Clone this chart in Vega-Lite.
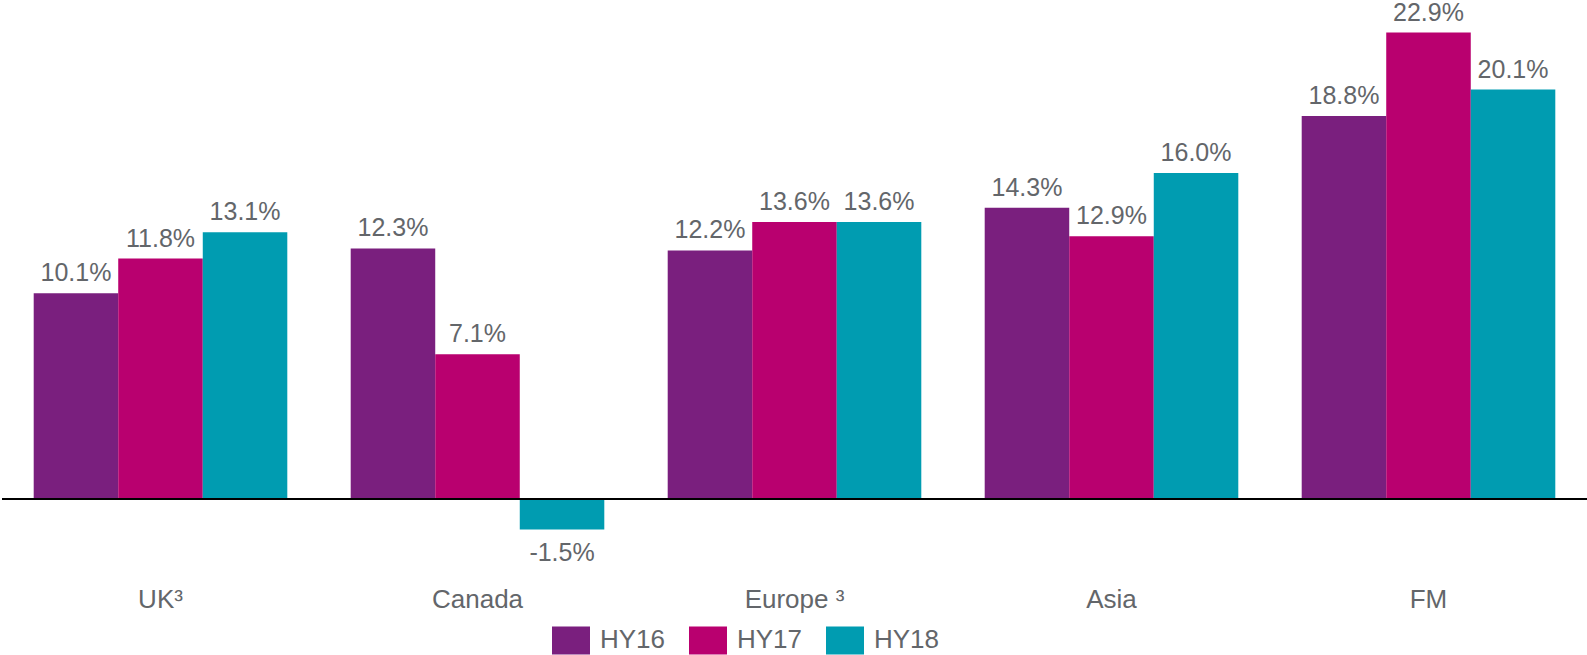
{
  "$schema": "https://vega.github.io/schema/vega-lite/v6.json",
  "width": 1585,
  "height": 560,
  "autosize": {"type": "none"},
  "padding": {"left": 2, "top": 0, "right": 0, "bottom": 95},
  "background": "white",
  "config": {
    "view": {"stroke": null},
    "font": "Liberation Sans",
    "text": {"font": "Liberation Sans"},
    "locale": {
      "number": {"decimal": ".", "thousands": ",", "grouping": [3], "currency": ["$", ""], "minus": "-"}
    }
  },
  "data": {
    "values": [
      {"region": "UK³", "period": "HY16", "value": 0.101},
      {"region": "UK³", "period": "HY17", "value": 0.118},
      {"region": "UK³", "period": "HY18", "value": 0.131},
      {"region": "Canada", "period": "HY16", "value": 0.123},
      {"region": "Canada", "period": "HY17", "value": 0.071},
      {"region": "Canada", "period": "HY18", "value": -0.015},
      {"region": "Europe ³", "period": "HY16", "value": 0.122},
      {"region": "Europe ³", "period": "HY17", "value": 0.136},
      {"region": "Europe ³", "period": "HY18", "value": 0.136},
      {"region": "Asia", "period": "HY16", "value": 0.143},
      {"region": "Asia", "period": "HY17", "value": 0.129},
      {"region": "Asia", "period": "HY18", "value": 0.160},
      {"region": "FM", "period": "HY16", "value": 0.188},
      {"region": "FM", "period": "HY17", "value": 0.229},
      {"region": "FM", "period": "HY18", "value": 0.201}
    ]
  },
  "encoding": {
    "x": {
      "field": "region",
      "type": "nominal",
      "sort": null,
      "scale": {"paddingInner": 0.2, "paddingOuter": 0.1},
      "axis": {
        "title": null,
        "domain": false,
        "ticks": false,
        "tickSize": 0,
        "labelAngle": 0,
        "labelFont": "Liberation Sans",
        "labelFontSize": 26,
        "labelColor": "#63666A",
        "labelBaseline": "alphabetic",
        "labelPadding": 47
      }
    },
    "xOffset": {"field": "period", "type": "nominal", "sort": null, "scale": {"paddingInner": 0, "paddingOuter": 0}},
    "y": {
      "field": "value",
      "type": "quantitative",
      "scale": {"domain": [-0.03, 0.245], "nice": false, "zero": false},
      "axis": null
    }
  },
  "layer": [
    {
      "mark": {"type": "bar"},
      "encoding": {
        "color": {
          "field": "period",
          "type": "nominal",
          "scale": {"domain": ["HY16", "HY17", "HY18"], "range": ["#7A1F7E", "#B9006F", "#009CB1"]},
          "legend": {
            "title": null,
            "orient": "none",
            "direction": "horizontal",
            "legendX": 550,
            "legendY": 621,
            "symbolType": "M-1,-0.737H1V0.737H-1Z",
            "symbolSize": 1444,
            "symbolStrokeWidth": 0,
            "labelFont": "Liberation Sans",
            "labelFontSize": 26,
            "labelColor": "#63666A",
            "labelOffset": 10,
            "columnPadding": 23,
            "padding": 0
          }
        }
      }
    },
    {
      "transform": [{"filter": "datum.value >= 0"}],
      "mark": {"type": "text", "baseline": "alphabetic", "dy": -12, "fontSize": 25, "color": "#63666A", "font": "Liberation Sans"},
      "encoding": {"text": {"field": "value", "type": "quantitative", "format": ".1%"}}
    },
    {
      "transform": [{"filter": "datum.value < 0"}],
      "mark": {"type": "text", "baseline": "top", "dy": 12, "fontSize": 25, "color": "#63666A", "font": "Liberation Sans"},
      "encoding": {"text": {"field": "value", "type": "quantitative", "format": ".1%"}}
    },
    {
      "mark": {"type": "rule", "color": "#000000", "strokeWidth": 2},
      "encoding": {"y": {"datum": 0}, "x": null, "xOffset": null}
    }
  ]
}
